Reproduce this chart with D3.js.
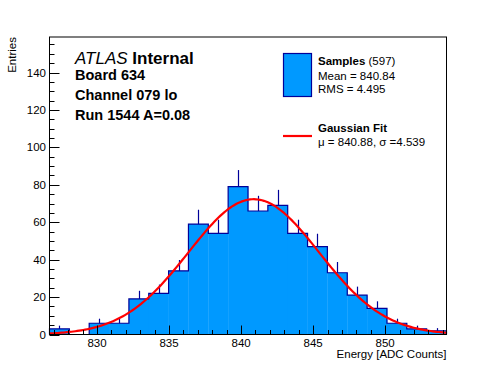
<!DOCTYPE html>
<html>
<head>
<meta charset="utf-8">
<script src="https://cdn.jsdelivr.net/npm/d3@7"></script>
<style>
  body { margin: 0; background: #fff; }
  svg text { font-family: "Liberation Sans", Arial, Helvetica, sans-serif; fill: #000; }
</style>
</head>
<body>
<div id="chart"></div>
<script>
// histogram: 20 bins between xMin and xMax
var xMin = 826.7, xMax = 854.26;
var binCounts = [3, 0, 6, 6, 19, 22, 34, 59, 54, 79, 66, 69, 54, 47, 33, 21, 14, 6, 3, 2];
var xTicksMajor = [830, 835, 840, 845, 850];
var yTicksMajor = [0, 20, 40, 60, 80, 100, 120, 140];
var yMax = 159;

// gaussian fit parameters
var fitMean = 840.88, fitSigma = 4.539, fitAmp = 72.3;

var infoLines = ['Board 634', 'Channel 079 lo', 'Run 1544 A=0.08'];
var statLines = ['Mean = 840.84', 'RMS = 4.495'];

var W = 496, H = 372;
var fL = 49.5, fR = 446.5, fT = 37, fB = 334.5;
var fillCol = '#0099ff', lineCol = '#000099';

var svg = d3.select('#chart').append('svg').attr('width', W).attr('height', H);

var x = d3.scaleLinear().domain([xMin, xMax]).range([fL, fR]);
var y = d3.scaleLinear().domain([0, yMax]).range([fB, fT]);

var bw = (xMax - xMin) / binCounts.length;
var bins = binCounts.map(function(c, i) {
    return {x0: xMin + i * bw, x1: xMin + (i + 1) * bw, n: c};
});

// filled bars
svg.append('g').selectAll('rect.bin').data(bins).enter().append('rect').attr('class', 'bin')
    .attr('x', function(b) { return x(b.x0); })
    .attr('width', function(b) { return x(b.x1) - x(b.x0) + 0.3; })
    .attr('y', function(b) { return y(b.n); })
    .attr('height', function(b) { return y(0) - y(b.n); })
    .attr('fill', fillCol);

// outline as a step line
var stepPts = [[xMin, 0]];
bins.forEach(function(b) { stepPts.push([b.x0, b.n]); stepPts.push([b.x1, b.n]); });
stepPts.push([xMax, 0]);
svg.append('path')
    .attr('d', d3.line().x(function(p) { return x(p[0]); }).y(function(p) { return y(p[1]); })(stepPts))
    .attr('fill', 'none').attr('stroke', lineCol).attr('stroke-width', 1.2);

// upper half of error bars (lower half is hidden under the fill)
svg.append('g').selectAll('line.err').data(bins.filter(function(b) { return b.n > 0; })).enter().append('line')
    .attr('class', 'err')
    .attr('x1', function(b) { return Math.round(x((b.x0 + b.x1) / 2)) + 0.5; })
    .attr('x2', function(b) { return Math.round(x((b.x0 + b.x1) / 2)) + 0.5; })
    .attr('y1', function(b) { return y(b.n); })
    .attr('y2', function(b) { return y(b.n + Math.sqrt(b.n)); })
    .attr('stroke', lineCol).attr('stroke-width', 1.2);

// fit curve
var fx = d3.range(0, 201).map(function(i) { return xMin + (xMax - xMin) * i / 200; });
var gaus = function(v) { return fitAmp * Math.exp(-0.5 * Math.pow((v - fitMean) / fitSigma, 2)); };
svg.append('path')
    .attr('d', d3.line().x(function(v) { return x(v); }).y(function(v) { return y(gaus(v)); })(fx))
    .attr('fill', 'none').attr('stroke', '#ff0000').attr('stroke-width', 2.2);

// frame
svg.append('rect').attr('x', fL).attr('y', fT).attr('width', fR - fL).attr('height', fB - fT)
    .attr('fill', 'none').attr('stroke', '#000').attr('stroke-width', 1);

// ticks inside the frame
var xMinor = d3.range(Math.ceil(xMin), xMax, 1);
svg.append('g').selectAll('line.xt').data(xMinor).enter().append('line').attr('class', 'xt')
    .attr('x1', function(v) { return Math.round(x(v)) + 0.5; })
    .attr('x2', function(v) { return Math.round(x(v)) + 0.5; })
    .attr('y1', fB)
    .attr('y2', function(v) { return fB - (v % 5 === 0 ? 9 : 4.5); })
    .attr('stroke', '#000');
var yMinor = d3.range(0, yMax, 5);
svg.append('g').selectAll('line.yt').data(yMinor).enter().append('line').attr('class', 'yt')
    .attr('x1', fL)
    .attr('x2', function(v) { return fL + (v % 20 === 0 ? 10 : 5); })
    .attr('y1', function(v) { return Math.round(y(v)) + 0.5; })
    .attr('y2', function(v) { return Math.round(y(v)) + 0.5; })
    .attr('stroke', '#000');

// tick labels
svg.append('g').selectAll('text.xl').data(xTicksMajor).enter().append('text').attr('class', 'xl')
    .attr('x', function(v) { return x(v); }).attr('y', 347)
    .style('text-anchor', 'middle').style('font-size', '11.5px')
    .text(function(v) { return v; });
svg.append('g').selectAll('text.yl').data(yTicksMajor).enter().append('text').attr('class', 'yl')
    .attr('x', 46).attr('y', function(v) { return y(v) + 4; })
    .style('text-anchor', 'end').style('font-size', '11.5px')
    .text(function(v) { return v; });

// axis titles
svg.append('text').attr('x', fR).attr('y', 358).style('text-anchor', 'end').style('font-size', '11.5px')
    .text('Energy [ADC Counts]');
svg.append('text').attr('transform', 'translate(16,' + fT + ') rotate(-90)')
    .style('text-anchor', 'end').style('font-size', '11.5px').text('Entries');

// ATLAS label block
var lab = svg.append('text').attr('x', 75).attr('y', 64).style('font-size', '17px');
lab.append('tspan').style('font-style', 'italic').text('ATLAS');
lab.append('tspan').style('font-weight', 'bold').text(' Internal');
svg.append('g').selectAll('text.info').data(infoLines).enter().append('text').attr('class', 'info')
    .attr('x', 75).attr('y', function(d, i) { return 80 + i * 20; })
    .style('font-weight', 'bold').style('font-size', '14.5px')
    .text(function(d) { return d; });

// legend
svg.append('rect').attr('x', 283.5).attr('y', 53.5).attr('width', 28).attr('height', 43)
    .attr('fill', fillCol).attr('stroke', lineCol).attr('stroke-width', 1.2);
var s1 = svg.append('text').attr('x', 318).attr('y', 65).style('font-size', '11.5px');
s1.append('tspan').style('font-weight', 'bold').text('Samples');
s1.append('tspan').text(' (' + d3.sum(binCounts) + ')');
svg.append('g').selectAll('text.stat').data(statLines).enter().append('text').attr('class', 'stat')
    .attr('x', 318).attr('y', function(d, i) { return 80 + i * 13; })
    .style('font-size', '11.5px').text(function(d) { return d; });
svg.append('line').attr('x1', 283).attr('x2', 312).attr('y1', 136).attr('y2', 136)
    .attr('stroke', '#ff0000').attr('stroke-width', 2.2);
svg.append('text').attr('x', 318).attr('y', 132).style('font-weight', 'bold').style('font-size', '11.5px')
    .text('Gaussian Fit');
svg.append('text').attr('x', 318).attr('y', 146).style('font-size', '11.5px')
    .text('\u03bc = ' + fitMean.toFixed(2) + ', \u03c3 =' + fitSigma.toFixed(3));
</script>
</body>
</html>
